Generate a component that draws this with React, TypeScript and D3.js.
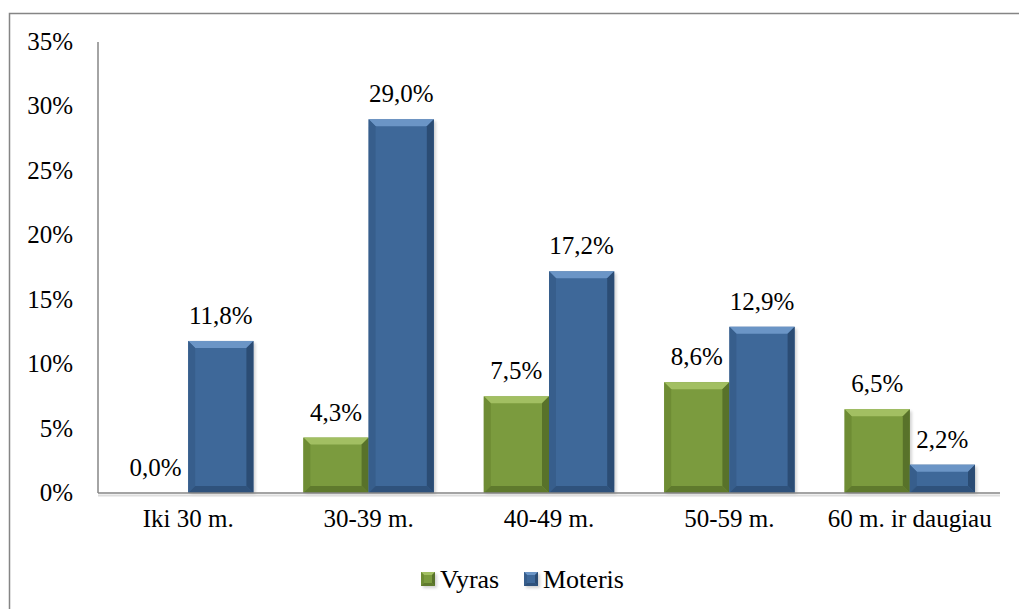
import React from "react";
import * as d3 from "d3";

const categories = ["Iki 30 m.", "30-39 m.", "40-49 m.", "50-59 m.", "60 m. ir daugiau"];
const seriesNames = ["Vyras", "Moteris"];
const vyras = [0.0, 4.3, 7.5, 8.6, 6.5];
const moteris = [11.8, 29.0, 17.2, 12.9, 2.2];
const yTicks = [0, 5, 10, 15, 20, 25, 30, 35];

const W = 1019;
const H = 609;
const FONT = "Liberation Serif";
const FS = 25;

type Palette = { base: string; top: string; left: string; right: string; bottom: string };
const palettes: Palette[] = [
  { base: "#7B9B3E", top: "#A2BF62", left: "#6E8C34", right: "#58722A", bottom: "#5F7A2D" },
  { base: "#3E6899", top: "#6B95C6", left: "#375E8C", right: "#2B4C74", bottom: "#2F527C" },
];

function BevelBar({ x, y, w, h, p, bevel = 7 }: { x: number; y: number; w: number; h: number; p: Palette; bevel?: number }) {
  if (h <= 0) return null;
  const b = Math.min(bevel, h / 2, w / 2);
  const x1 = x + w;
  const y1 = y + h;
  const pts = (a: number[][]) => a.map((q) => q.join(",")).join(" ");
  return (
    <g>
      <rect x={x + 2} y={y + 2} width={w} height={h} fill="#000" opacity={0.18} filter="url(#soft)" />
      <rect x={x} y={y} width={w} height={h} fill={p.base} />
      <polygon points={pts([[x, y], [x1, y], [x1 - b, y + b], [x + b, y + b]])} fill={p.top} />
      <polygon points={pts([[x, y], [x + b, y + b], [x + b, y1 - b], [x, y1]])} fill={p.left} />
      <polygon points={pts([[x1, y], [x1, y1], [x1 - b, y1 - b], [x1 - b, y + b]])} fill={p.right} />
      <polygon points={pts([[x, y1], [x + b, y1 - b], [x1 - b, y1 - b], [x1, y1]])} fill={p.bottom} />
    </g>
  );
}

export default function App() {
  const left = 98;
  const right = 1000;
  const top = 42;
  const bottom = 493;

  const x = d3.scaleBand<string>().domain(categories).range([left, right]).paddingInner(0.277).paddingOuter(0.1385);
  const xs = d3.scaleBand<string>().domain(seriesNames).range([0, x.bandwidth()]).padding(0);
  const y = d3.scaleLinear().domain([0, 35]).range([bottom, top]);
  const fmt = (v: number) => v.toFixed(1).replace(".", ",") + "%";

  const series = [vyras, moteris];
  const textStyle = { fontFamily: FONT, fontSize: FS } as React.CSSProperties;
  const legendStyle = { fontFamily: FONT, fontSize: 26 } as React.CSSProperties;

  return (
    <svg width={W} height={H} style={{ position: "absolute", left: 0, top: 0, background: "#fff" }}>
      <defs>
        <filter id="soft" x="-20%" y="-20%" width="140%" height="140%">
          <feGaussianBlur stdDeviation="1.5" />
        </filter>
      </defs>
      <rect x={0} y={0} width={W} height={H} fill="#fff" />
      <rect x={9.5} y={13.5} width={1030} height={620} fill="none" stroke="#858585" strokeWidth={1.5} />

      {yTicks.map((t) => (
        <text key={t} x={73} y={y(t) + 8} textAnchor="end" style={textStyle} fill="#000">
          {t}%
        </text>
      ))}

      <line x1={left} x2={left} y1={top} y2={bottom} stroke="#868686" strokeWidth={1.5} />

      {categories.map((c, i) =>
        series.map((s, k) => {
          const bx = (x(c) ?? 0) + (xs(seriesNames[k]) ?? 0);
          const bw = xs.bandwidth();
          const by = y(s[i]);
          return (
            <g key={c + k}>
              <BevelBar x={bx} y={by} w={bw} h={bottom - by} p={palettes[k]} />
              <text x={bx + bw / 2} y={by - 17} textAnchor="middle" style={textStyle} fill="#000">
                {fmt(s[i])}
              </text>
            </g>
          );
        })
      )}

      <line x1={left} x2={right} y1={bottom + 2.5} y2={bottom + 2.5} stroke="#ddd" strokeWidth={2} />
      <line x1={left} x2={right} y1={bottom} y2={bottom} stroke="#868686" strokeWidth={1.5} />

      {categories.map((c) => (
        <text key={c} x={(x(c) ?? 0) + x.bandwidth() / 2} y={527} textAnchor="middle" style={textStyle} fill="#000">
          {c}
        </text>
      ))}

      <g>
        {seriesNames.map((n, k) => {
          const lx = k === 0 ? 421 : 524;
          return (
            <g key={n}>
              <BevelBar x={lx} y={572} w={14} h={14} p={palettes[k]} bevel={3} />
              <text x={lx + 19} y={588} style={legendStyle} fill="#000">
                {n}
              </text>
            </g>
          );
        })}
      </g>
    </svg>
  );
}
